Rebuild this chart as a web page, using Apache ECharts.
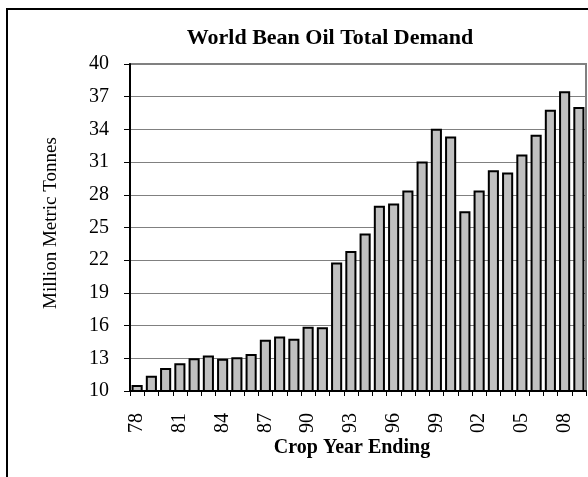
<!DOCTYPE html>
<html>
<head>
<meta charset="utf-8">
<script src="https://cdn.jsdelivr.net/npm/echarts@6/dist/echarts.min.js"></script>
<style>
html,body{margin:0;padding:0;background:#fff;}
#chart{width:588px;height:477px;}
</style>
</head>
<body>
<div id="chart"></div>
<script>
var years = ['78','79','80','81','82','83','84','85','86','87','88','89','90','91','92','93','94','95','96','97','98','99','00','01','02','03','04','05','06','07','08','09'];
var demand = [10.55,11.4,12.1,12.55,13.0,13.25,12.95,13.1,13.4,14.7,15.0,14.8,15.9,15.85,21.8,22.85,24.45,27.0,27.2,28.4,31.05,34.05,33.35,26.5,28.4,30.25,30.05,31.7,33.5,35.8,37.5,36.05];
var titleText = 'World Bean Oil Total Demand';
var xName = 'Crop Year Ending';
var yName = 'Million Metric Tonnes';

var FONT = '"Liberation Serif", "Times New Roman", serif';
var chart = echarts.init(document.getElementById('chart'), null, {renderer:'canvas'});
chart.setOption({
  animation: false,
  backgroundColor: '#fff',
  grid: {left:130, right:2, top:64, bottom:86, show:true, borderColor:'#808080', borderWidth:2, backgroundColor:'transparent'},
  graphic: [
    {type:'rect', shape:{x:7, y:9, width:620, height:520}, style:{fill:'none', stroke:'#000', lineWidth:2}, silent:true},
    {type:'text', x:330, y:38, style:{text:titleText, font:'bold 22px ' + FONT, fill:'#000', textAlign:'center', textVerticalAlign:'middle'}},
    {type:'text', x:352, y:448, style:{text:xName, font:'bold 20px ' + FONT, fill:'#000', textAlign:'center', textVerticalAlign:'middle'}},
    {type:'text', x:51, y:223, rotation:Math.PI/2, style:{text:yName, font:'19px ' + FONT, fill:'#000', textAlign:'center', textVerticalAlign:'middle'}}
  ],
  xAxis: {
    type:'category', data: years, boundaryGap:true,
    axisLine:{lineStyle:{color:'#000', width:2}},
    axisTick:{show:true, interval:0, length:5, lineStyle:{color:'#000', width:1}},
    axisLabel:{interval:2, rotate:90, margin:22, fontFamily:FONT, fontSize:20, color:'#000'},
    splitLine:{show:false}
  },
  yAxis: {
    type:'value', min:10, max:40, interval:3,
    axisLine:{show:true, lineStyle:{color:'#000', width:2}},
    axisTick:{show:true, length:6, lineStyle:{color:'#000', width:1}},
    axisLabel:{margin:21, fontFamily:FONT, fontSize:20, color:'#000'},
    splitLine:{show:true, lineStyle:{color:'#808080', width:1}}
  },
  series: [{
    type:'bar', data: demand, barCategoryGap:'22%',
    itemStyle:{color:'#c0c0c0', borderColor:'#000', borderWidth:2}
  }]
});
</script>
</body>
</html>
